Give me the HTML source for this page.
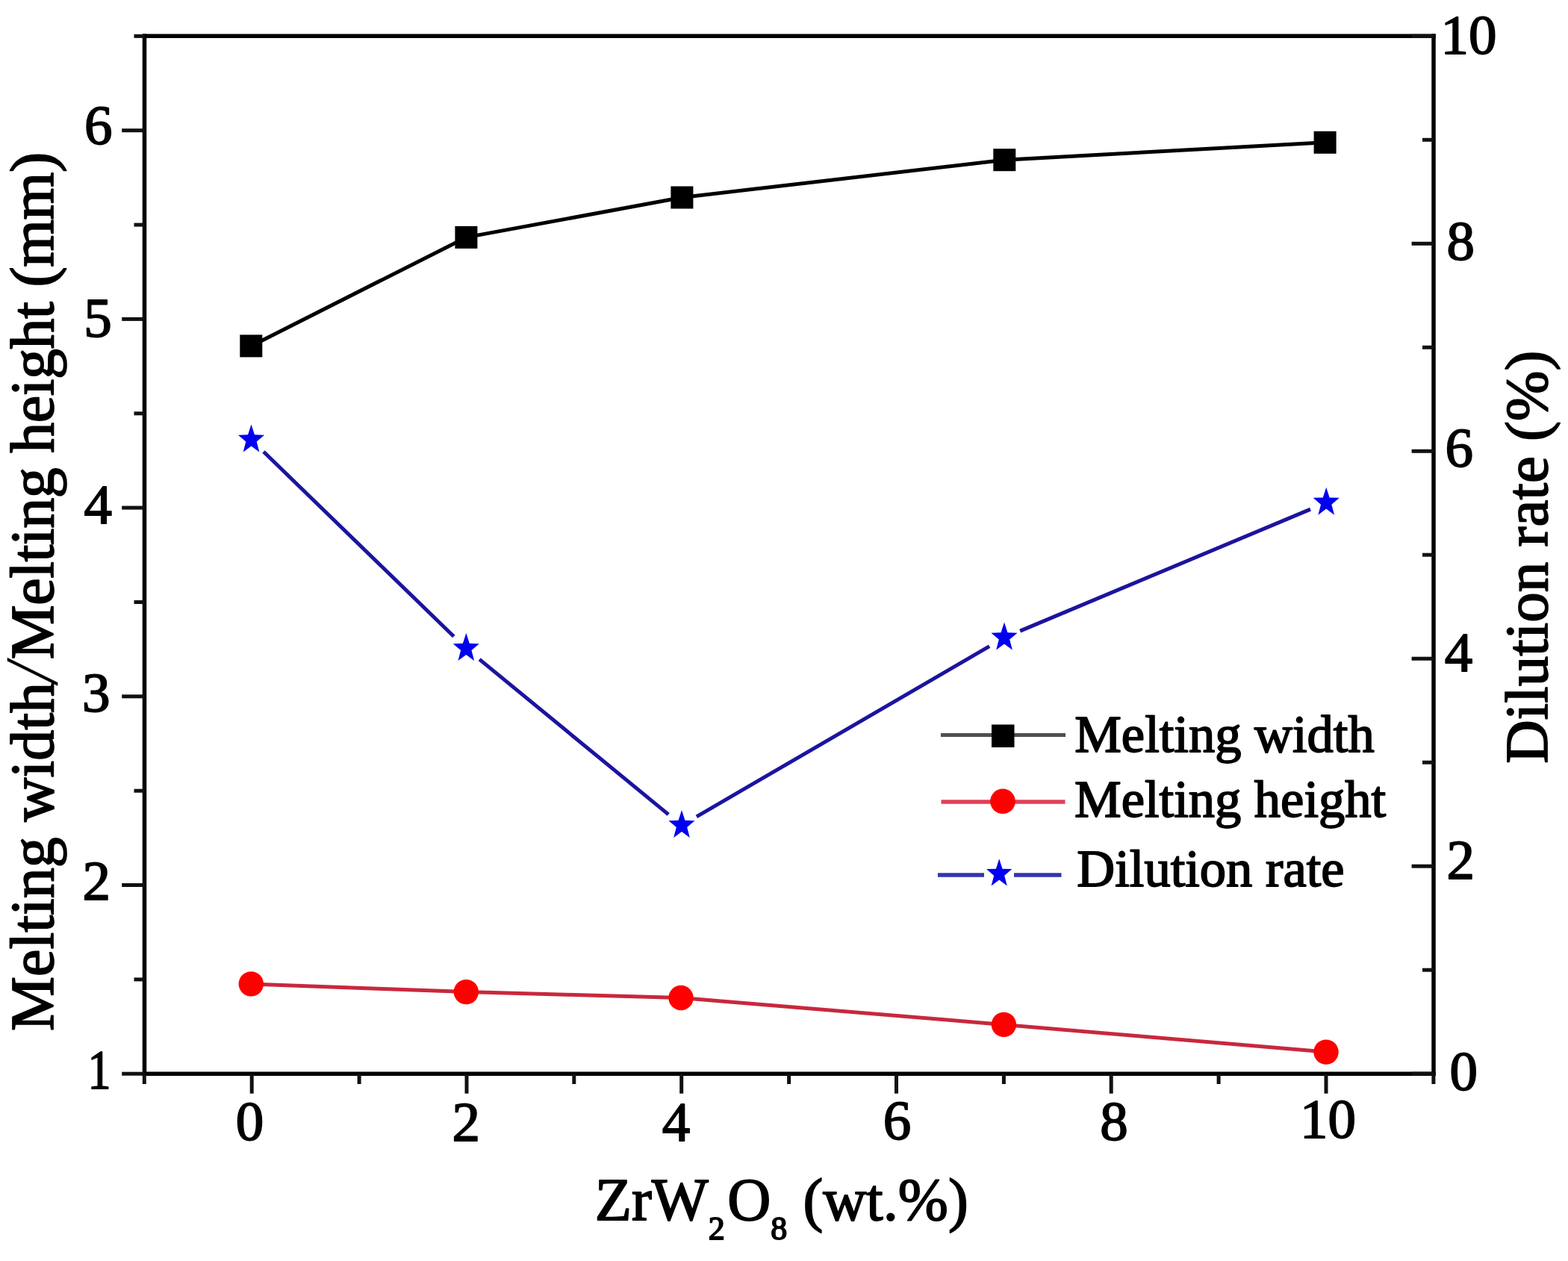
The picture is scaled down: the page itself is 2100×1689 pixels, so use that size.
<!DOCTYPE html>
<html><head><meta charset="utf-8"><title>Melting width / height and dilution rate vs ZrW2O8</title>
<style>html,body{margin:0;padding:0;background:#fff;}body{width:2100px;height:1689px;overflow:hidden;}svg{display:block;filter:blur(0.5px);}</style>
</head><body>
<svg width="2100" height="1689" viewBox="0 0 2100 1689"><g stroke="#000" stroke-width="5.5" stroke-linecap="butt" fill="none"><line x1="193.5" y1="45.55" x2="193.5" y2="1440.95"/><line x1="1920.0" y1="45.55" x2="1920.0" y2="1440.95"/><line x1="190.75" y1="48.3" x2="1922.75" y2="48.3"/><line x1="190.75" y1="1438.2" x2="1922.75" y2="1438.2"/></g>
<g stroke="#111" stroke-width="5" fill="none"><line x1="193.3" y1="1438.2" x2="193.3" y2="1452.0"/><line x1="337.2" y1="1438.2" x2="337.2" y2="1464.7"/><line x1="481.1" y1="1438.2" x2="481.1" y2="1452.0"/><line x1="625.0" y1="1438.2" x2="625.0" y2="1464.7"/><line x1="768.8" y1="1438.2" x2="768.8" y2="1452.0"/><line x1="912.7" y1="1438.2" x2="912.7" y2="1464.7"/><line x1="1056.6" y1="1438.2" x2="1056.6" y2="1452.0"/><line x1="1200.5" y1="1438.2" x2="1200.5" y2="1464.7"/><line x1="1344.4" y1="1438.2" x2="1344.4" y2="1452.0"/><line x1="1488.2" y1="1438.2" x2="1488.2" y2="1464.7"/><line x1="1632.1" y1="1438.2" x2="1632.1" y2="1452.0"/><line x1="1776.0" y1="1438.2" x2="1776.0" y2="1464.7"/><line x1="1919.9" y1="1438.2" x2="1919.9" y2="1452.0"/><line x1="193.5" y1="1438.2" x2="163.2" y2="1438.2"/><line x1="193.5" y1="1311.9" x2="179.5" y2="1311.9"/><line x1="193.5" y1="1185.5" x2="163.2" y2="1185.5"/><line x1="193.5" y1="1059.2" x2="179.5" y2="1059.2"/><line x1="193.5" y1="932.8" x2="163.2" y2="932.8"/><line x1="193.5" y1="806.5" x2="179.5" y2="806.5"/><line x1="193.5" y1="680.1" x2="163.2" y2="680.1"/><line x1="193.5" y1="553.8" x2="179.5" y2="553.8"/><line x1="193.5" y1="427.4" x2="163.2" y2="427.4"/><line x1="193.5" y1="301.1" x2="179.5" y2="301.1"/><line x1="193.5" y1="174.7" x2="163.2" y2="174.7"/><line x1="193.5" y1="48.4" x2="179.5" y2="48.4"/><line x1="1920.0" y1="1438.2" x2="1890.6" y2="1438.2"/><line x1="1920.0" y1="1299.2" x2="1905.0" y2="1299.2"/><line x1="1920.0" y1="1160.2" x2="1890.6" y2="1160.2"/><line x1="1920.0" y1="1021.2" x2="1905.0" y2="1021.2"/><line x1="1920.0" y1="882.2" x2="1890.6" y2="882.2"/><line x1="1920.0" y1="743.2" x2="1905.0" y2="743.2"/><line x1="1920.0" y1="604.3" x2="1890.6" y2="604.3"/><line x1="1920.0" y1="465.3" x2="1905.0" y2="465.3"/><line x1="1920.0" y1="326.3" x2="1890.6" y2="326.3"/><line x1="1920.0" y1="187.3" x2="1905.0" y2="187.3"/><line x1="1920.0" y1="48.3" x2="1890.6" y2="48.3"/></g>
<polyline fill="none" stroke="#000" stroke-width="5" stroke-linejoin="round" points="336.3,463.4 624.4,317.9 913.4,264.5 1345.3,214.2 1774.6,190.8"/>
<polyline fill="none" stroke="#c8283c" stroke-width="5" stroke-linejoin="round" points="336.3,1317.9 624.3,1328.6 912.0,1336.5 1344.4,1372.4 1776.0,1409.1"/>
<g stroke="#1c149e" stroke-width="5" stroke-linecap="butt"><line x1="353.0" y1="605.0" x2="607.8" y2="852.5"/><line x1="642.1" y1="883.1" x2="895.2" y2="1090.9"/><line x1="932.9" y1="1093.9" x2="1325.1" y2="865.6"/><line x1="1366.2" y1="845.1" x2="1755.0" y2="682.1"/></g>
<g fill="#000"><rect x="321.3" y="448.4" width="30" height="30"/><rect x="609.4" y="302.9" width="30" height="30"/><rect x="898.4" y="249.5" width="30" height="30"/><rect x="1330.3" y="199.2" width="30" height="30"/><rect x="1759.6" y="175.8" width="30" height="30"/></g>
<g fill="#ff0000"><circle cx="336.3" cy="1317.9" r="16.7"/><circle cx="624.3" cy="1328.6" r="16.7"/><circle cx="912.0" cy="1336.5" r="16.7"/><circle cx="1344.4" cy="1372.4" r="16.7"/><circle cx="1776.0" cy="1409.1" r="16.7"/></g>
<g fill="#0000f0"><polygon points="336.50,568.50 340.95,582.20 354.05,582.67 343.69,591.60 347.34,605.58 336.50,597.40 325.66,605.58 329.31,591.60 318.95,582.67 332.05,582.20"/><polygon points="624.30,848.00 628.75,861.70 641.85,862.17 631.49,871.10 635.14,885.08 624.30,876.90 613.46,885.08 617.11,871.10 606.75,862.17 619.85,861.70"/><polygon points="913.00,1085.00 917.45,1098.70 930.55,1099.17 920.19,1108.10 923.84,1122.08 913.00,1113.90 902.16,1122.08 905.81,1108.10 895.45,1099.17 908.55,1098.70"/><polygon points="1345.00,833.50 1349.45,847.20 1362.55,847.67 1352.19,856.60 1355.84,870.58 1345.00,862.40 1334.16,870.58 1337.81,856.60 1327.45,847.67 1340.55,847.20"/><polygon points="1776.20,652.70 1780.65,666.40 1793.75,666.87 1783.39,675.80 1787.04,689.78 1776.20,681.61 1765.36,689.78 1769.01,675.80 1758.65,666.87 1771.75,666.40"/></g>
<g font-family='"Liberation Serif", "Times New Roman", serif' font-size="75" fill="#000" text-anchor="middle" stroke="#000" stroke-width="1.8" stroke-linejoin="round"><text x="334.5" y="1526.8">0</text><text x="624.3" y="1528.1">2</text><text x="905.6" y="1528.1">4</text><text x="1201.5" y="1525.6">6</text><text x="1492.0" y="1527.4">8</text><text x="1778.4" y="1524.3">10</text><text x="131.7" y="192.6">6</text><text x="130.9" y="450.7">5</text><text x="131.25" y="701.3">4</text><text x="128.7" y="952.9">3</text><text x="129.3" y="1205.1">2</text><text x="133.0" y="1458.3" textLength="31" lengthAdjust="spacingAndGlyphs">1</text><text x="1966.9" y="72.3">10</text><text x="1956.2" y="347.9">8</text><text x="1954.3" y="625.0">6</text><text x="1953.45" y="899.3">4</text><text x="1956.2" y="1176.6">2</text><text x="1960.3" y="1459.7">0</text></g>
<line x1="1260" y1="984.6" x2="1427" y2="984.6" stroke="#505050" stroke-width="5"/><rect x="1328" y="970.5" width="30.5" height="30.5" fill="#000"/><line x1="1260.5" y1="1074" x2="1426.5" y2="1074" stroke="#e04058" stroke-width="5.5"/><circle cx="1343" cy="1073.3" r="16.8" fill="#ff0000"/><line x1="1256" y1="1172" x2="1318" y2="1172" stroke="#3434b0" stroke-width="5.5"/><line x1="1358" y1="1172" x2="1421.5" y2="1172" stroke="#3434b0" stroke-width="5.5"/><polygon points="1338.20,1150.30 1342.54,1163.67 1355.32,1164.12 1345.22,1172.83 1348.78,1186.48 1338.20,1178.50 1327.62,1186.48 1331.18,1172.83 1321.08,1164.12 1333.86,1163.67" fill="#0000f0"/>
<g font-family='"Liberation Serif", "Times New Roman", serif' font-size="70.5" fill="#000" stroke="#000" stroke-width="1.8" stroke-linejoin="round"><text x="1439.2" y="1006.5">Melting width</text><text x="1439.0" y="1093.5">Melting height</text><text x="1442.3" y="1187">Dilution rate</text></g>
<text font-family='"Liberation Serif", "Times New Roman", serif' fill="#000" stroke="#000" stroke-width="1.8" stroke-linejoin="round" font-size="82" transform="translate(71.3,1380.9) rotate(-90)">Melting width</text>
<text font-family='"Liberation Serif", "Times New Roman", serif' fill="#000" stroke="#000" stroke-width="0.6" stroke-linejoin="round" font-size="82" transform="translate(76,918) rotate(-90) skewX(-12) scale(1,1.22)">/</text>
<text font-family='"Liberation Serif", "Times New Roman", serif' fill="#000" stroke="#000" stroke-width="1.8" stroke-linejoin="round" font-size="82" textLength="679.4" lengthAdjust="spacing" transform="translate(71.3,883.2) rotate(-90)">Melting height (mm)</text>
<text font-family='"Liberation Serif", "Times New Roman", serif' fill="#000" stroke="#000" stroke-width="1.8" stroke-linejoin="round" font-size="81" transform="translate(2071.9,1022.8) rotate(-90)">Dilution rate (%)</text>
<text font-family='"Liberation Serif", "Times New Roman", serif' fill="#000" stroke="#000" stroke-width="1.8" stroke-linejoin="round" font-size="80.5" x="796.8" y="1633.9">ZrW<tspan font-size="44" dy="26">2</tspan><tspan dx="3.4" dy="-26">O</tspan><tspan font-size="44" dy="26">8</tspan><tspan dx="1" dy="-26"> (wt.%)</tspan></text></svg>
</body></html>
